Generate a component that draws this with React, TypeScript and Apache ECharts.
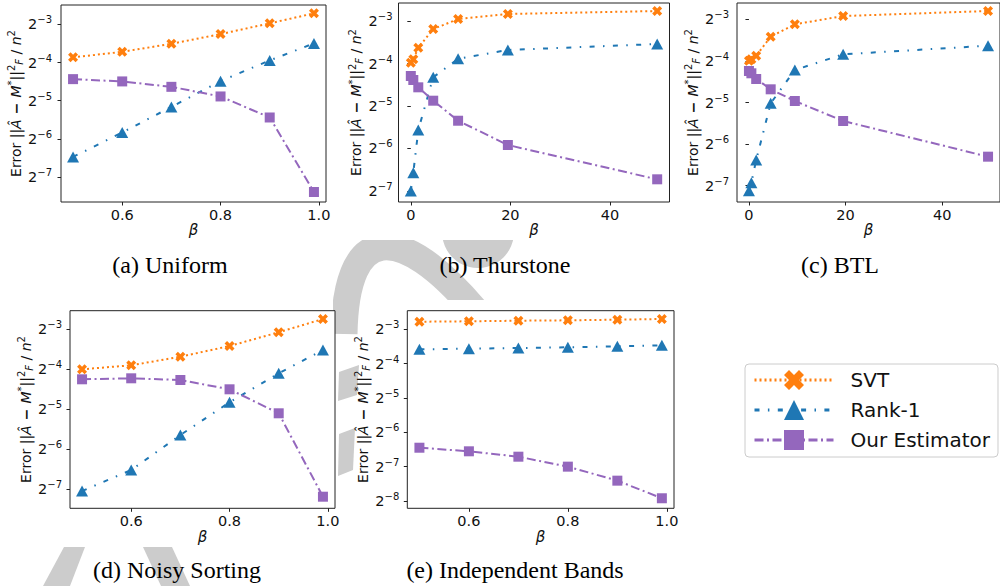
import React, { useEffect, useRef } from 'react';
import * as echarts from 'echarts';

const FONT = 'DejaVu Sans';
const SERIF = 'Liberation Serif';
const C_SVT = '#ff7f0e';
const C_RANK = '#1f77b4';
const C_OURS = '#9467bd';
const WM = '#cccccc';
const INK = '#111111';

const seriesNames = ['SVT', 'Rank-1', 'Our Estimator'];
const captions = ['(a) Uniform', '(b) Thurstone', '(c) BTL', '(d) Noisy Sorting', '(e) Independent Bands'];

const betaUnit = [0.5, 0.6, 0.7, 0.8, 0.9, 0.99];
const betaScale = [0, 0.5, 1.5, 4.5, 9.5, 19.5, 49.5];
const xTicksUnit = [0.6, 0.8, 1.0];
const xTicksScale = [0, 20, 40];
const yTickExps = [-8, -7, -6, -5, -4, -3];

// (a) Uniform
const uniformSVT = [0.0686, 0.0759, 0.0878, 0.1047, 0.1273, 0.1527];
const uniformRank1 = [0.01124, 0.01752, 0.02791, 0.04456, 0.06493, 0.08845];
const uniformOurs = [0.0462, 0.04432, 0.04017, 0.03373, 0.02302, 0.005945];
// (b) Thurstone
const thurstoneSVT = [0.06333, 0.06694, 0.08089, 0.1097, 0.1291, 0.1402, 0.1471];
const thurstoneRank1 = [0.007813, 0.01053, 0.02113, 0.04989, 0.0676, 0.07791, 0.08591];
const thurstoneOurs = [0.05098, 0.04776, 0.04239, 0.03408, 0.02458, 0.01654, 0.009453];
// (c) BTL
const btlSVT = [0.06272, 0.06417, 0.06816, 0.09356, 0.115, 0.132, 0.1436];
const btlRank1 = [0.007189, 0.008213, 0.01199, 0.03084, 0.05371, 0.06979, 0.0805];
const btlOurs = [0.05281, 0.05084, 0.04623, 0.03893, 0.03204, 0.02296, 0.01267];
// (d) Noisy Sorting
const noisySVT = [0.0625, 0.06699, 0.07775, 0.09356, 0.1187, 0.1494];
const noisyRank1 = [0.007583, 0.01091, 0.02002, 0.03528, 0.05831, 0.08729];
const noisyOurs = [0.05256, 0.05347, 0.0519, 0.04419, 0.02916, 0.006872];
// (e) Independent Bands
const bandsSVT = [0.1457, 0.1469, 0.1487, 0.1499, 0.1518, 0.1539];
const bandsRank1 = [0.08345, 0.0845, 0.08568, 0.08693, 0.0887, 0.09051];
const bandsOurs = [0.01145, 0.01065, 0.009552, 0.007813, 0.005888, 0.004127];

const panelData = [
  { xs: betaUnit, ticks: xTicksUnit, ys: [uniformSVT, uniformRank1, uniformOurs] },
  { xs: betaScale, ticks: xTicksScale, ys: [thurstoneSVT, thurstoneRank1, thurstoneOurs] },
  { xs: betaScale, ticks: xTicksScale, ys: [btlSVT, btlRank1, btlOurs] },
  { xs: betaUnit, ticks: xTicksUnit, ys: [noisySVT, noisyRank1, noisyOurs] },
  { xs: betaUnit, ticks: xTicksUnit, ys: [bandsSVT, bandsRank1, bandsOurs] },
];

// layout: plot rectangles, axis extents (y in log2 units), caption positions
const layout = [
  { left: 61, top: 5, width: 265, height: 197, xMin: 0.4755, xMax: 1.0145, yMin: -7.656, yMax: -2.493, lm: 9, ng: 30, capX: 170, capY: 265 },
  { left: 398.5, top: 3, width: 271, height: 199, xMin: -2.475, xMax: 51.975, yMin: -7.259, yMax: -2.576, lm: 6, ng: 30, capX: 505, capY: 265 },
  { left: 737, top: 3, width: 269, height: 199, xMin: -2.475, xMax: 51.975, yMin: -7.392, yMax: -2.608, lm: 8, ng: 33, capX: 840, capY: 265 },
  { left: 70, top: 310.7, width: 265, height: 197.6, xMin: 0.4755, xMax: 1.0145, yMin: -7.475, yMax: -2.535, lm: 8, ng: 31, capX: 177, capY: 570 },
  { left: 407.3, top: 310.7, width: 266.7, height: 197.6, xMin: 0.4755, xMax: 1.0145, yMin: -8.213, yMax: -2.458, lm: 8, ng: 30, capX: 515, capY: 570 },
];

const X_PATH = 'path://M3,0L6,3L9,0L12,3L9,6L12,9L9,12L6,9L3,12L0,9L3,6L0,3Z';
const seriesStyle = [
  { color: C_SVT, symbol: X_PATH, size: 10, dash: [2, 3] },
  { color: C_RANK, symbol: 'triangle', size: [12, 11], dash: [5, 8.4, 1.5, 8.4] },
  { color: C_OURS, symbol: 'rect', size: 10, dash: [9, 3.5, 2, 3.5] },
];

const yName = '{t|Error ||}{i|Â}{m|−}{i|M}{u|*}{t|||}{u|2}{d|F}{t| / }{i|n}{u|2}';
const yNameRich = {
  t: { fontFamily: FONT, fontSize: 14, color: INK },
  i: { fontFamily: FONT, fontSize: 14, fontStyle: 'italic', color: INK },
  m: { fontFamily: FONT, fontSize: 14, fontWeight: 'bold', color: INK, padding: [0, 5, 0, 5] },
  u: { fontFamily: FONT, fontSize: 10, color: INK, padding: [0, 0, 8, 0] },
  d: { fontFamily: FONT, fontSize: 10, fontStyle: 'italic', color: INK, padding: [7, 0, 0, 0] },
};

function yLabel(v: number) {
  const e = Math.log2(v);
  const r = Math.round(e);
  if (Math.abs(e - r) > 1e-6) return '';
  return `{b|2}{s|−${Math.abs(r)}}`;
}

export default function App() {
  const ref = useRef<HTMLDivElement>(null);
  useEffect(() => {
    if (!ref.current) return;
    const chart = echarts.init(ref.current, null, { renderer: 'svg' });
    const grid: any[] = [];
    const xAxis: any[] = [];
    const yAxis: any[] = [];
    const series: any[] = [];
    layout.forEach((p, i) => {
      const d = panelData[i];
      grid.push({ left: p.left, top: p.top, width: p.width, height: p.height, show: true, borderColor: '#222', borderWidth: 1, backgroundColor: '#fff' });
      xAxis.push({
        type: 'value', gridIndex: i, min: p.xMin, max: p.xMax,
        axisLine: { show: false }, splitLine: { show: false },
        axisTick: { show: true, length: 3.5, customValues: d.ticks, lineStyle: { color: '#222' } },
        axisLabel: {
          customValues: d.ticks, margin: 5, fontFamily: FONT, fontSize: 14.5, color: INK,
          formatter: (v: number) => (d.ticks === xTicksUnit ? v.toFixed(1) : String(v)),
        },
        name: 'β', nameLocation: 'middle', nameGap: 18,
        nameTextStyle: { fontFamily: FONT, fontSize: 15, fontStyle: 'italic', color: INK },
      });
      const yTicks = yTickExps.filter((e) => e >= p.yMin && e <= p.yMax).map((e) => Math.pow(2, e));
      yAxis.push({
        type: 'log', logBase: 2, gridIndex: i, min: Math.pow(2, p.yMin), max: Math.pow(2, p.yMax),
        axisLine: { show: false }, splitLine: { show: false }, minorTick: { show: false },
        axisTick: { show: true, length: 3.5, customValues: yTicks, lineStyle: { color: '#222' } },
        axisLabel: {
          margin: p.lm, formatter: yLabel,
          rich: {
            b: { fontFamily: FONT, fontSize: 14.5, color: INK },
            s: { fontFamily: FONT, fontSize: 10, color: INK, padding: [0, 0, 9, 0] },
          },
        },
        name: yName, nameLocation: 'middle', nameGap: p.ng,
        nameTextStyle: { rich: yNameRich },
      });
      seriesNames.forEach((name, k) => {
        const st = seriesStyle[k];
        series.push({
          type: 'line', name, xAxisIndex: i, yAxisIndex: i,
          data: d.xs.map((x, j) => [x, d.ys[k][j]]),
          symbol: st.symbol, symbolSize: st.size, showAllSymbol: true,
          itemStyle: { color: st.color },
          lineStyle: { color: st.color, width: 2, type: st.dash },
          z: 3 + k,
        });
      });
    });

    const graphic: any[] = [
      { type: 'circle', z: -3, shape: { cx: 478, cy: 232, r: 36 }, style: { fill: WM } },
      { type: 'bezierCurve', z: -3, shape: { x1: 344, y1: 334, cpx1: 346, cpy1: 222, cpx2: 400, cpy2: 222, x2: 475, y2: 310 }, style: { stroke: WM, lineWidth: 27, fill: null } },
      { type: 'polygon', z: -3, shape: { points: [[339, 372], [359, 365], [357, 395], [338, 401]] }, style: { fill: WM } },
      { type: 'polygon', z: -3, shape: { points: [[339, 434], [355, 428], [353, 470], [338, 476]] }, style: { fill: WM } },
      { type: 'polygon', z: -3, shape: { points: [[64, 547], [85, 547], [70, 586], [43, 586]] }, style: { fill: WM } },
      { type: 'polygon', z: -3, shape: { points: [[143, 547], [172, 547], [190, 586], [161, 586]] }, style: { fill: WM } },
      { type: 'rect', z: -2, shape: { x: 0, y: 0, width: 1000, height: 240 }, style: { fill: '#fff' } },
      { type: 'rect', z: -2, shape: { x: 0, y: 298, width: 333, height: 249 }, style: { fill: '#fff' } },
      { type: 'rect', z: -2, shape: { x: 367, y: 300, width: 330, height: 247 }, style: { fill: '#fff' } },
    ];
    layout.forEach((p, i) => {
      graphic.push({
        type: 'text', z: 5, x: p.capX, y: p.capY,
        style: { text: captions[i], fontFamily: SERIF, fontSize: 24, fill: '#000', align: 'center', verticalAlign: 'middle' },
      });
    });

    chart.setOption({
      animation: false,
      backgroundColor: '#fff',
      grid, xAxis, yAxis, series, graphic,
      legend: {
        data: seriesNames, orient: 'vertical', left: 745, top: 364,
        itemWidth: 79, itemHeight: 25, itemGap: 10, padding: [6, 8, 7, 8],
        borderColor: '#cccccc', borderWidth: 1, borderRadius: 4, backgroundColor: '#fff',
        selectedMode: false, lineStyle: { width: 3 },
        textStyle: { fontFamily: FONT, fontSize: 20, color: INK, padding: [0, 0, 0, 12] },
      },
    });
    return () => chart.dispose();
  }, []);
  return <div ref={ref} style={{ position: 'fixed', left: 0, top: 0, width: 1000, height: 586 }} />;
}
